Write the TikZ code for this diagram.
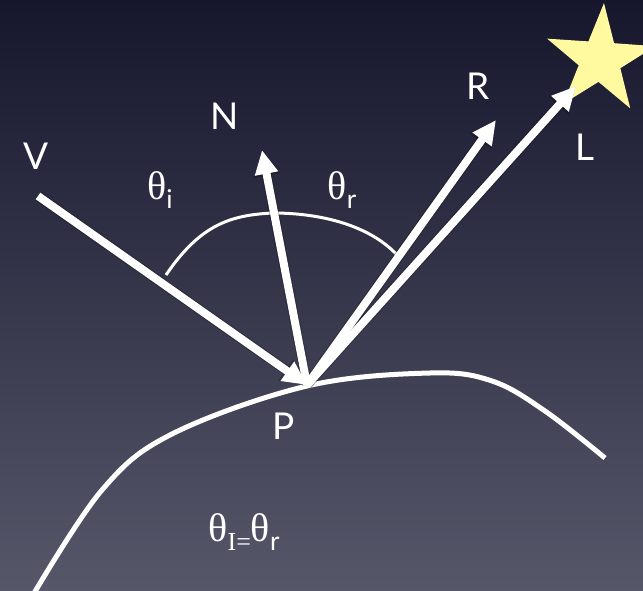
\documentclass[tikz,border=0pt]{standalone}
\usepackage{fontspec}
\setmainfont{Liberation Serif}
\newfontfamily\labelfont{Lato}
\usetikzlibrary{arrows.meta,shapes.geometric}
\definecolor{bgtop}{RGB}{22,22,45}
\definecolor{bgbot}{RGB}{86,87,105}
\definecolor{staryellow}{RGB}{255,250,160}
\newcommand{\subtext}[1]{\raisebox{-9pt}{\fontsize{26}{28}\selectfont #1}}
\begin{document}
\begin{tikzpicture}[x=1pt,y=-1pt,
  vec/.style={draw=white, line width=8pt, -{Triangle[length=24pt,width=22pt]}},
  vecshadow/.style={draw=black, opacity=0.25, line width=10pt, -{Triangle[length=26pt,width=24pt]}},
  lbl/.style={text=white, font=\labelfont\fontsize{37}{40}\selectfont, inner sep=0pt},
  ang/.style={text=white, font=\fontsize{40}{44}\selectfont, inner sep=0pt}]
\useasboundingbox (0,0) rectangle (643,591);
\fill[top color=bgtop, bottom color=bgbot] (0,0) rectangle (643,591);
% points
\coordinate (P) at (307,385);
\coordinate (V) at (38,196);
\coordinate (Nt) at (262,150);
\coordinate (Rt) at (496,120);
\coordinate (Lt) at (576,86);
\coordinate (A1) at (166,275);
\coordinate (A2) at (273,213);
\coordinate (A3) at (398,256);
% surface
\draw[white, line width=5pt] plot[smooth, tension=0.6] coordinates
  {(33,595) (102,490) (172,434) (307,386) (430,373) (492,381) (545,411) (605,458)};
% angle arc
\draw[white, line width=3pt] (A1) .. controls (200,225) and (230,215) .. (A2)
  .. controls (320,213) and (370,225) .. (A3);
% star
\node[star, star points=5, star point ratio=2.6, minimum size=114pt, inner sep=0pt,
  fill=staryellow, rotate=-4] (star) at (600,60) {};
% shadows
\begin{scope}[shift={(2,3)}]
\draw[vecshadow] (V) -- (P);
\draw[vecshadow] (P) -- (Nt);
\draw[vecshadow] (P) -- (Rt);
\draw[vecshadow] (P) -- (Lt);
\end{scope}
% vectors
\draw[vec] (V) -- (P);
\draw[vec] (P) -- (Nt);
\draw[vec] (P) -- (Rt);
\draw[vec] (P) -- (Lt);
% labels
\node[lbl] (Vl) at (36,156) {V};
\node[lbl] (Nl) at (225,116) {N};
\node[lbl] (Rl) at (478,86) {R};
\node[lbl] (Ll) at (585,147) {L};
\node[lbl] (Pl) at (284,426) {P};
\node[ang] (ti) at (160,190) {θ\subtext{\labelfont i}};
\node[ang] (tr) at (342,190) {θ\subtext{\labelfont r}};
\node[ang] (eq) at (244,532) {θ\subtext{I=}θ\subtext{\labelfont r}};
\end{tikzpicture}
\end{document}
